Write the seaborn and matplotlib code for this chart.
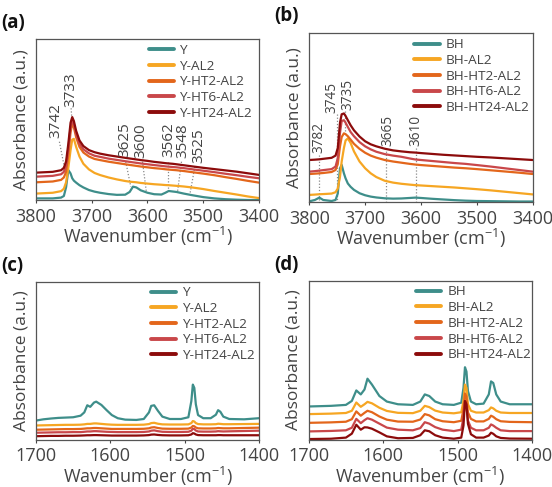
import pandas as pd
import numpy as np
import matplotlib.pyplot as plt
import seaborn as sns

sns.set_theme(style="white")
plt.rcParams['font.family'] = ['Open Sans', 'DejaVu Sans']
plt.rcParams['mathtext.fontset'] = 'custom'
plt.rcParams['mathtext.rm'] = 'Open Sans'

TXT = '#444444'
colors = ['#3e8e8a', '#f6a623', '#e3661b', '#c9474a', '#8c0b0b']

# ---------------- (a) Y zeolites, OH region ----------------
a_wn = [3800, 3770, 3755, 3750, 3746, 3742, 3738, 3735, 3732, 3728, 3722, 3715, 3705, 3695,
        3685, 3670, 3655, 3640, 3632, 3626, 3620, 3612, 3600, 3588, 3575, 3568, 3562, 3555,
        3548, 3535, 3520, 3500, 3480, 3460, 3440, 3420, 3400]
a_Y = [.01, .01, .015, .025, .08, .186, .165, .135, .12, .108, .092, .078, .062, .052,
       .045, .037, .032, .033, .05, .083, .078, .06, .045, .036, .034, .045, .056, .053,
       .05, .04, .03, .018, .01, .005, .002, .0, .0]
a_AL2 = [.04, .045, .055, .07, .11, .2, .31, .375, .38, .33, .27, .225, .19, .168,
         .155, .14, .128, .118, .114, .112, .11, .106, .102, .098, .095, .093, .092, .09,
         .088, .084, .078, .068, .056, .045, .034, .022, .012]
a_HT2 = [.11, .115, .125, .14, .175, .28, .42, .475, .45, .39, .33, .295, .27, .255,
         .248, .238, .23, .222, .218, .215, .212, .208, .203, .198, .194, .191, .189, .187,
         .185, .18, .173, .164, .154, .142, .131, .119, .108]
a_HT6 = [.145, .15, .16, .175, .215, .32, .45, .495, .47, .41, .35, .315, .29, .275,
         .268, .257, .249, .241, .237, .234, .231, .227, .222, .217, .212, .209, .207, .205,
         .203, .198, .191, .182, .173, .163, .154, .144, .135]
a_HT24 = [.17, .175, .185, .2, .24, .35, .48, .515, .49, .43, .37, .335, .31, .297,
          .288, .278, .27, .262, .258, .255, .252, .248, .243, .237, .232, .229, .227, .225,
          .222, .216, .209, .2, .192, .184, .176, .166, .156]
a_labels = ['Y', 'Y-AL2', 'Y-HT2-AL2', 'Y-HT6-AL2', 'Y-HT24-AL2']

# ---------------- (b) BH zeolites, OH region ----------------
b_wn = [3800, 3790, 3782, 3775, 3760, 3753, 3749, 3745, 3742, 3738, 3735, 3731, 3726, 3720,
        3710, 3700, 3690, 3680, 3665, 3650, 3635, 3620, 3610, 3600, 3580, 3560, 3540, 3520,
        3500, 3475, 3450, 3425, 3400]
b_BH = [.004, .012, .026, .012, .006, .012, .05, .2, .22, .17, .14, .11, .09, .072,
        .052, .04, .032, .027, .022, .02, .021, .024, .026, .024, .019, .015, .011, .008,
        .006, .005, .004, .003, .003]
b_AL2 = [.042, .044, .046, .047, .05, .058, .08, .15, .24, .32, .365, .377, .35, .3,
         .24, .2, .17, .148, .126, .115, .108, .103, .1, .098, .094, .09, .086, .081,
         .076, .069, .061, .053, .045]
b_HT2 = [.166, .168, .17, .172, .178, .19, .225, .33, .385, .407, .402, .39, .37, .345,
         .315, .292, .275, .263, .249, .24, .233, .226, .222, .219, .214, .209, .204, .2,
         .195, .188, .181, .174, .166]
b_HT6 = [.18, .183, .186, .189, .195, .21, .26, .41, .48, .485, .47, .445, .415, .39,
         .355, .33, .312, .298, .284, .275, .268, .258, .252, .249, .243, .237, .231, .226,
         .219, .21, .2, .19, .18]
b_HT24 = [.249, .251, .253, .256, .262, .275, .32, .47, .52, .525, .51, .485, .455, .425,
          .388, .36, .342, .33, .316, .306, .3, .295, .293, .29, .285, .28, .276, .272,
          .268, .264, .259, .254, .249]
b_labels = ['BH', 'BH-AL2', 'BH-HT2-AL2', 'BH-HT6-AL2', 'BH-HT24-AL2']

# ---------------- (c) Y zeolites, pyridine region ----------------
c_wn = [1700, 1690, 1680, 1670, 1660, 1650, 1640, 1635, 1631, 1627, 1622, 1619, 1612, 1605,
        1598, 1590, 1580, 1565, 1555, 1548, 1545, 1541, 1536, 1530, 1520, 1505, 1495, 1491,
        1489, 1487, 1485, 1482, 1475, 1465, 1458, 1455, 1452, 1448, 1440, 1420, 1400]
c_Y = [.12, .128, .133, .137, .139, .141, .151, .172, .217, .207, .234, .24, .219, .186,
       .155, .135, .126, .124, .13, .172, .213, .217, .182, .145, .13, .13, .141, .244,
       .348, .327, .224, .155, .135, .135, .157, .186, .176, .145, .13, .128, .135]
c_AL2 = [.089, .09, .091, .092, .093, .093, .094, .096, .099, .099, .102, .102, .099, .096,
         .094, .093, .093, .093, .094, .098, .104, .106, .1, .096, .095, .095, .096, .104,
         .117, .114, .104, .098, .096, .096, .097, .1, .099, .097, .097, .098, .099]
c_HT2 = [.062, .063, .064, .065, .066, .066, .067, .069, .071, .071, .073, .073, .071, .069,
         .067, .067, .067, .067, .068, .071, .076, .078, .073, .069, .068, .068, .069, .076,
         .086, .084, .076, .071, .07, .07, .071, .073, .072, .071, .071, .073, .075]
c_HT6 = [.043, .044, .045, .046, .046, .047, .047, .049, .051, .051, .053, .053, .051, .049,
         .048, .047, .047, .047, .048, .051, .056, .058, .053, .049, .048, .048, .049, .056,
         .068, .066, .057, .051, .05, .05, .051, .053, .052, .051, .052, .054, .056]
c_HT24 = [.021, .022, .023, .023, .024, .024, .025, .026, .027, .027, .028, .028, .027, .026,
          .025, .025, .025, .025, .026, .028, .031, .032, .029, .027, .026, .026, .027, .032,
          .04, .038, .032, .028, .027, .027, .027, .028, .028, .027, .027, .027, .027]

# ---------------- (d) BH zeolites, pyridine region ----------------
d_wn = [1700, 1670, 1650, 1642, 1636, 1630, 1625, 1621, 1615, 1605, 1595, 1580, 1560, 1550,
        1544, 1538, 1530, 1520, 1505, 1495, 1492, 1490, 1488, 1486, 1482, 1475, 1465, 1458,
        1455, 1452, 1448, 1442, 1430, 1400]
d_BH = [.208, .212, .218, .243, .309, .284, .315, .383, .346, .274, .239, .222, .218, .239,
        .284, .274, .239, .222, .218, .232, .325, .455, .428, .305, .239, .222, .226, .284,
        .366, .356, .284, .239, .222, .222]
d_AL2 = [.16, .163, .167, .181, .233, .206, .222, .237, .228, .2, .18, .168, .166, .181,
         .212, .204, .182, .17, .165, .172, .243, .346, .325, .222, .181, .17, .17, .185,
         .202, .196, .181, .17, .167, .167]
d_HT2 = [.105, .108, .112, .128, .177, .15, .168, .181, .172, .145, .125, .113, .112, .126,
         .16, .152, .128, .115, .109, .118, .191, .29, .27, .171, .13, .114, .114, .13,
         .15, .143, .128, .115, .111, .109]
d_HT6 = [.051, .054, .058, .074, .13, .103, .122, .134, .125, .1, .075, .062, .058, .072,
         .109, .1, .078, .062, .053, .062, .14, .239, .218, .119, .074, .058, .058, .074,
         .095, .088, .074, .058, .053, .053]
d_HT24 = [.003, .005, .012, .037, .093, .062, .077, .076, .068, .045, .02, .008, .01, .027,
          .058, .052, .027, .012, .005, .012, .088, .243, .222, .099, .033, .012, .012, .025,
          .043, .036, .02, .01, .006, .005]

oh_ticks = [3800, 3700, 3600, 3500, 3400]
py_ticks = [1700, 1600, 1500, 1400]


def long_df(wn, series, labels):
    return pd.DataFrame({
        'wn': wn * len(series),
        'absorbance': sum(series, []),
        'sample': sum([[lab] * len(wn) for lab in labels], []),
    })


def draw(ax, wn, series, labels, ticks, letter, leg_anchor):
    df = long_df(wn, series, labels)
    sns.lineplot(data=df, x='wn', y='absorbance', hue='sample', hue_order=labels,
                 palette=colors, estimator=None, sort=False, linewidth=1.6, ax=ax)
    ax.set_xlim(ticks[0], ticks[-1])
    ax.set_ylim(0, 1)
    ax.set_yticks([])
    ax.set_xticks(ticks)
    ax.tick_params(axis='x', labelsize=13, colors=TXT, length=2.5, width=0.8,
                   direction='out', bottom=True, pad=3)
    for s in ax.spines.values():
        s.set_color('#555555')
        s.set_linewidth(0.9)
    ax.set_xlabel(r'Wavenumber (cm$^{\mathregular{-1}}$)', fontsize=13, color=TXT, labelpad=-0.5)
    ax.set_ylabel('Absorbance (a.u.)', fontsize=12.5, color=TXT, labelpad=5)
    leg = ax.legend(loc='upper left', bbox_to_anchor=leg_anchor, frameon=False,
                    fontsize=9.7, handlelength=1.9, handletextpad=0.45, labelspacing=0.2,
                    borderpad=0, borderaxespad=0)
    for t in leg.get_texts():
        t.set_color(TXT)
    for h in leg.get_lines():
        h.set_linewidth(2.8)
        h.set_solid_capstyle('round')
    ax.text(-0.155, 1.16, letter, transform=ax.transAxes, fontsize=13.5, fontweight='bold',
            color='#111111', va='top', ha='left')


fig = plt.figure(figsize=(5.52, 4.87), dpi=100)
ax_a = fig.add_axes([0.0652, 0.5893, 0.404, 0.3306])
ax_b = fig.add_axes([0.5603, 0.5852, 0.4047, 0.3464])
ax_c = fig.add_axes([0.0652, 0.0975, 0.404, 0.3241])
ax_d = fig.add_axes([0.5592, 0.0975, 0.4045, 0.3261])

draw(ax_a, a_wn, [a_Y, a_AL2, a_HT2, a_HT6, a_HT24], a_labels, oh_ticks, '(a)', (0.505, 0.97))
draw(ax_b, b_wn, [b_BH, b_AL2, b_HT2, b_HT6, b_HT24], b_labels, oh_ticks, '(b)', (0.47, 0.97))
draw(ax_c, c_wn, [c_Y, c_AL2, c_HT2, c_HT6, c_HT24], a_labels, py_ticks, '(c)', (0.515, 0.97))
draw(ax_d, d_wn, [d_BH, d_AL2, d_HT2, d_HT6, d_HT24], b_labels, py_ticks, '(d)', (0.48, 0.97))

dot = dict(color='#8a8a8a', lw=0.9, ls=(0, (1, 1.5)), zorder=0.5)

# (a) peak labels with slanted leader lines
a_peaks = ['3742', '3733', '3625', '3600', '3562', '3548', '3525']
a_text = [(3765, .383), (3737, .58), (3641, .269), (3612, .262), (3562, .269), (3537, .26), (3508, .228)]
a_lead = [((3758, .362), (3747, .166)), ((3737, .57), (3736, .52)), ((3639, .238), (3630, .083)),
          ((3609, .238), (3602, .05)), ((3563, .238), (3563, .062)), ((3539, .238), (3546, .055)),
          ((3515, .207), (3524, .035))]
for lab, (x, y), (p0, p1) in zip(a_peaks, a_text, a_lead):
    ax_a.text(x, y, lab, rotation=90, ha='center', va='bottom', fontsize=11, color=TXT)
    ax_a.plot([p0[0], p1[0]], [p0[1], p1[1]], **dot)

# (b) peak labels with vertical dotted lines
b_peaks = ['3782', '3745', '3735', '3665', '3610']
b_text = [(3782, .29), (3759, .528), (3731, .545), (3660, .33), (3609, .33)]
b_lead = [(3782, .28, 0), (3750, .52, 0), (3736, .54, .39), (3662, .32, 0), (3609, .32, 0)]
for lab, (x, y), (xl, y0, y1) in zip(b_peaks, b_text, b_lead):
    ax_b.text(x, y, lab, rotation=90, ha='center', va='bottom', fontsize=9.8, color=TXT)
    ax_b.plot([xl, xl], [y0, y1], **dot)

fig.savefig('out.png', dpi=100)
